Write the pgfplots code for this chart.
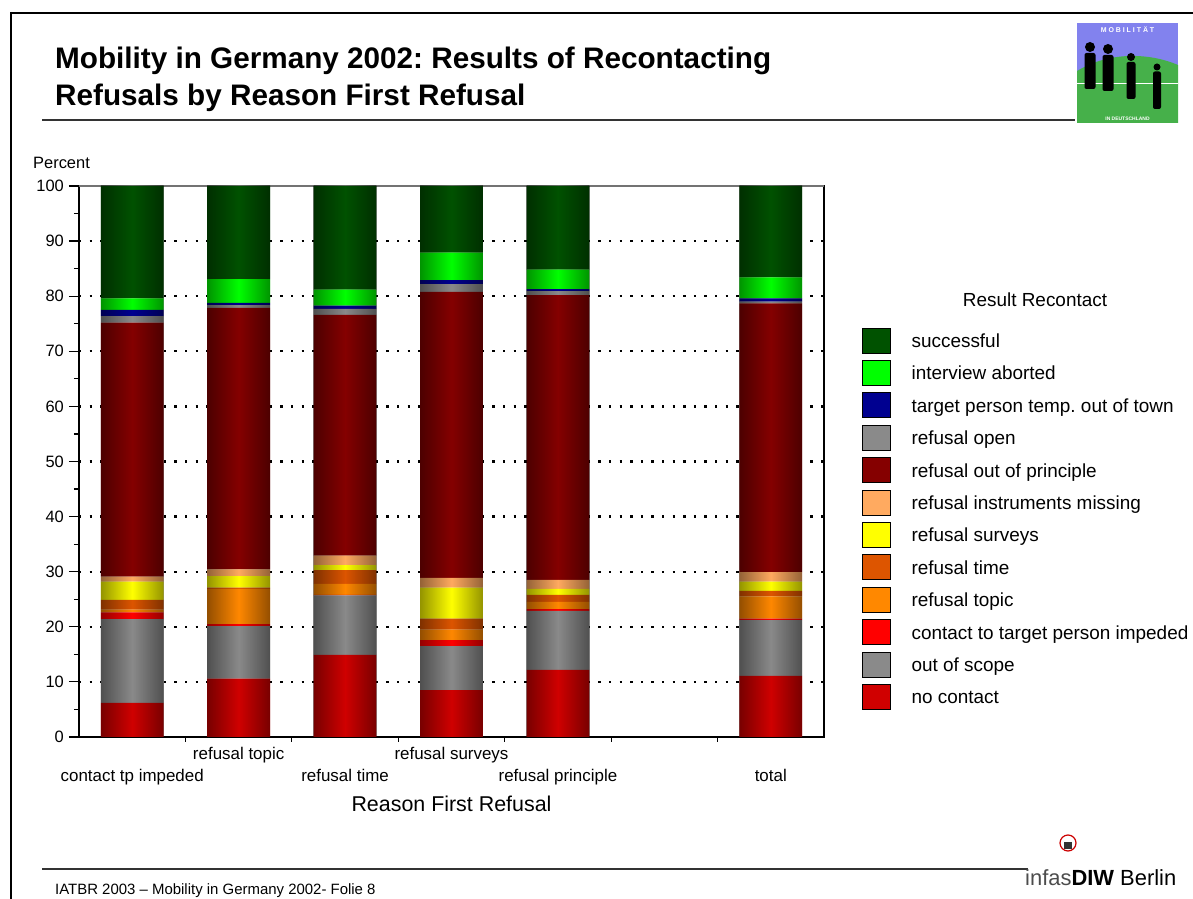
\documentclass[border=0pt]{standalone}
\usepackage{fontspec}
\setmainfont{Liberation Sans}
\usepackage{pgfplots}
\pgfplotsset{compat=1.18}
\usepackage{pgfplotstable}
\frenchspacing

\definecolor{cSucc}{HTML}{005200}
\definecolor{cAbort}{HTML}{00FF00}
\definecolor{cTarget}{HTML}{000090}
\definecolor{cOpen}{HTML}{8A8A8A}
\definecolor{cPrinc}{HTML}{850000}
\definecolor{cInstr}{HTML}{FFAA60}
\definecolor{cSurv}{HTML}{FFFF00}
\definecolor{cTime}{HTML}{DD5500}
\definecolor{cTopic}{HTML}{FF8800}
\definecolor{cImped}{HTML}{FF0000}
\definecolor{cScope}{HTML}{8A8A8A}
\definecolor{cNoc}{HTML}{D00000}
\definecolor{logoblue}{HTML}{8282EE}
\definecolor{logogreen}{HTML}{46B04A}

% share of each recontact result, by reason of first refusal (x=5 is left empty)
\pgfplotstableread{
x  noc  scope imped topic time surv instr princ open target abort succ
0  6.2  15.2  1.2   0.5   1.8  3.3  0.9   46.1  1.2  1.1    2.1   20.4
1  10.6 9.5   0.4   6.4   0.2  2.1  1.2   47.5  0.5  0.4    4.3   16.9
2  14.9 10.8  0.1   2.0   2.5  0.9  1.7   43.7  1.1  0.6    2.9   18.8
3  8.5  8.0   1.1   1.9   2.0  5.6  1.8   51.9  1.4  0.7    5.0   12.1
4  12.2 10.7  0.3   1.3   1.3  1.1  1.6   51.7  0.7  0.4    3.5   15.2
6  11.1 10.1  0.3   4.0   1.0  1.7  1.7   48.8  0.3  0.6    3.8   16.6
}\datatable

\pgfplotsset{
  slide axis/.style={at={(79bp,162bp)}, anchor=south west, scale only axis,
    width=745bp, height=551bp, xmin=-0.5, xmax=6.5, ymin=0, ymax=100,
    bar width=0.59},
  seg/.style={draw=none, fill=c#1, forget plot},
  shine/.style={draw=none, left color=black!42, right color=black!42, middle color=white, blend mode=multiply},
}

\begin{document}
\begin{tikzpicture}[x=1bp,y=1bp]
\useasboundingbox (0,0) rectangle (1193,899);

% slide frame
\draw[line width=2.5bp] (11,886) -- (1193,886);
\draw[line width=2.5bp] (11,887.2) -- (11,0);
\draw[line width=1.6bp, black!80] (42,779) -- (1075,779);
\draw[line width=1.6bp, black!80] (42,30) -- (1028,30);

\node[anchor=base west, inner sep=0, font=\fontsize{29.8}{36}\selectfont\bfseries] at (55,830) {Mobility in Germany 2002: Results of Recontacting};
\node[anchor=base west, inner sep=0, font=\fontsize{29.8}{36}\selectfont\bfseries] at (55,793.5) {Refusals by Reason First Refusal};
\node[anchor=base west, inner sep=0, font=\fontsize{15}{18}\selectfont] at (55,4) {IATBR 2003 -- Mobility in Germany 2002- Folie 8};

% logo top right
\fill[logoblue] (1077,776) rectangle (1178,876);
\fill[logogreen] (1077,776) -- (1077,828) .. controls (1110,848) and (1150,846) .. (1178,834) -- (1178,776) -- cycle;
\draw[white, line width=0.8bp] (1077,816) -- (1178,816);
\foreach \cx/\top/\r in {1090/852/5, 1108/850/5, 1131/842/4, 1157/832/3.5}{
  \fill[black] (\cx,\top) circle (\r);
  \fill[black, rounded corners=2bp] (\cx-\r-0.5,\top-\r-1) rectangle (\cx+\r+0.5,\top-42);
}
\node[white, font=\fontsize{7}{8}\selectfont\bfseries, inner sep=0] at (1127.5,869) {M O B I L I T Ä T};
\node[white, font=\fontsize{5}{6}\selectfont\bfseries, inner sep=0] at (1127.5,780.5) {IN DEUTSCHLAND};

% logo bottom right
\draw[red!80!black, line width=1.2bp] (1068,56) circle (8);
\fill[black!80] (1064,50) rectangle (1072,57);
\node[anchor=base west, inner sep=0, font=\fontsize{22}{26}\selectfont] at (1025,13) {{\color{black!70}infas}\textbf{DIW} Berlin};

\node[anchor=base west, inner sep=0, font=\fontsize{16.5}{20}\selectfont] at (33,730) {Percent};
\node[anchor=base, inner sep=0, font=\fontsize{19}{23}\selectfont] at (1035,592) {Result Recontact};

\begin{axis}[
  slide axis,
  ybar stacked,
  xtick={0,1,2,3,4,6},
  xticklabels={{\strut\\contact tp impeded},{\strut refusal topic},{\strut\\refusal time},{\strut refusal surveys},{\strut\\refusal principle},{\strut\\total}},
  minor xtick={0.5,1.5,2.5,3.5,4.5,5.5},
  ytick={0,10,...,100}, minor ytick={5,15,...,95},
  tick pos=left, tick align=outside,
  major tick length=10bp, minor tick length=5bp,
  major x tick style={draw=none},
  tick style={black, line width=1.2bp},
  axis line style={black, line width=1.4bp},
  ymajorgrids,
  major y grid style={black, line width=2.3bp, dash pattern=on 2.3bp off 8.3bp},
  /pgf/number format/assume math mode=true,
  xticklabel style={font=\fontsize{17}{22}\selectfont, align=center, inner sep=0pt, anchor=north, yshift=3bp},
  yticklabel style={font=\fontsize{16.5}{20}\selectfont, inner sep=0pt, anchor=east, xshift=-5bp},
  xlabel={Reason First Refusal},
  every axis x label/.style={at={(axis description cs:0.5,0)}, anchor=center, yshift=-67bp, font=\fontsize{21.5}{26}\selectfont},
  legend image code/.code={\fill[#1] (0bp,-11.5bp) rectangle (28bp,13.5bp);},
  legend cell align=left,
  legend style={at={(1.051,0.7432)}, anchor=north west, draw=none, fill=none,
    inner sep=0pt, row sep=7bp, font=\fontsize{19}{23}\selectfont,
    nodes={inner sep=0pt},
    /tikz/every odd column/.append style={column sep=21bp}},
]
\addplot[seg=Noc] table[x=x, y=noc] {\datatable};
\addplot[seg=Scope] table[x=x, y=scope] {\datatable};
\addplot[seg=Imped] table[x=x, y=imped] {\datatable};
\addplot[seg=Topic] table[x=x, y=topic] {\datatable};
\addplot[seg=Time] table[x=x, y=time] {\datatable};
\addplot[seg=Surv] table[x=x, y=surv] {\datatable};
\addplot[seg=Instr] table[x=x, y=instr] {\datatable};
\addplot[seg=Princ] table[x=x, y=princ] {\datatable};
\addplot[seg=Open] table[x=x, y=open] {\datatable};
\addplot[seg=Target] table[x=x, y=target] {\datatable};
\addplot[seg=Abort] table[x=x, y=abort] {\datatable};
\addplot[seg=Succ] table[x=x, y=succ] {\datatable};

\draw[black!55, line width=2bp] (rel axis cs:0,1) -- (rel axis cs:1,1);

\addlegendimage{fill=cSucc}\addlegendentry{successful}
\addlegendimage{fill=cAbort}\addlegendentry{interview aborted}
\addlegendimage{fill=cTarget}\addlegendentry{target person temp. out of town}
\addlegendimage{fill=cOpen}\addlegendentry{refusal open}
\addlegendimage{fill=cPrinc}\addlegendentry{refusal out of principle}
\addlegendimage{fill=cInstr}\addlegendentry{refusal instruments missing}
\addlegendimage{fill=cSurv}\addlegendentry{refusal surveys}
\addlegendimage{fill=cTime}\addlegendentry{refusal time}
\addlegendimage{fill=cTopic}\addlegendentry{refusal topic}
\addlegendimage{fill=cImped}\addlegendentry{contact to target person impeded}
\addlegendimage{fill=cScope}\addlegendentry{out of scope}
\addlegendimage{fill=cNoc}\addlegendentry{no contact}
\end{axis}

% cylinder shine laid over each stacked bar (one bar per plot so each gets its own shading)
\begin{axis}[slide axis, hide axis, ybar, bar shift=0pt]
\addplot[shine] coordinates {(0,100)};
\addplot[shine] coordinates {(1,100)};
\addplot[shine] coordinates {(2,100)};
\addplot[shine] coordinates {(3,100)};
\addplot[shine] coordinates {(4,100)};
\addplot[shine] coordinates {(6,100)};
\end{axis}
\end{tikzpicture}
\end{document}
